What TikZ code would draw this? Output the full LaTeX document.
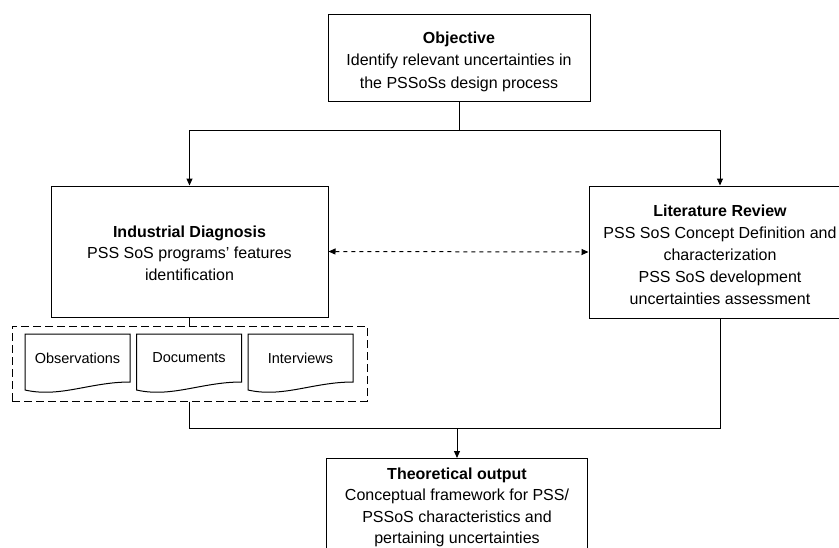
\documentclass[tikz,border=0pt]{standalone}
\usepackage{fontspec}
\setmainfont{Liberation Sans}
\usetikzlibrary{arrows.meta}
\tikzset{
  box/.style={draw, line width=1pt, inner sep=0pt},
  txt/.style={align=center, inner sep=0pt, font=\fontsize{16}{22.5}\selectfont},
  conn/.style={line width=1pt},
  arr/.style={line width=1pt, -{Triangle[length=7pt,width=6pt]}},
  darr/.style={line width=1pt, dash pattern=on 4pt off 4pt,
    {Triangle[length=7pt,width=6pt]}-{Triangle[length=7pt,width=6pt]}},
  grpbox/.style={draw, line width=1pt, dash pattern=on 8pt off 4pt, inner sep=0pt},
  doc/.style={draw, line width=1pt},
  doctext/.style={font=\fontsize{14.5}{17}\selectfont, inner sep=0pt}
}
\begin{document}
\begin{tikzpicture}[x=1pt,y=-1pt]
\useasboundingbox (0,0) rectangle (839,547);
\clip (0,0) rectangle (839,547);
\node[box, minimum width=262pt, minimum height=87pt] (obj) at (459,57.5) {};
\node[txt] (objt) at (459,61.5)
  {\textbf{Objective}\\Identify relevant uncertainties in\\the PSSoSs design process};
\node[box, minimum width=277pt, minimum height=131pt] (ind) at (189.5,251.5) {};
\node[txt, font=\fontsize{16}{21.5}\selectfont] (indt) at (189.5,253)
  {\textbf{Industrial Diagnosis}\\PSS SoS programs’ features\\identification};
\node[box, minimum width=262pt, minimum height=132pt] (lit) at (720,252) {};
\node[txt, font=\fontsize{16}{22}\selectfont] (litt) at (720,254.5)
  {\textbf{Literature Review}\\PSS SoS Concept Definition and\\characterization\\PSS SoS development\\uncertainties assessment};
\node[grpbox, minimum width=355pt, minimum height=75pt] (grp) at (189.5,363.5) {};
\foreach \n/\x/\t in {o/25/Observations, d/136.5/Documents, i/248/Interviews} {
  \draw[doc] (\x,334) -- ++(105,0) -- ++(0,48)
    .. controls +(-40,0) and +(35,8) .. (\x,390) -- cycle;
  \node[doctext] (\n) at (\x+52.5,358) {\t};
}
\node[box, minimum width=261pt, minimum height=100pt, anchor=north] (theo) at (457,458) {};
\node[txt, font=\fontsize{16}{21.3}\selectfont] (theot) at (457,507.5)
  {\textbf{Theoretical output}\\Conceptual framework for PSS/\\PSSoS characteristics and\\pertaining uncertainties};
\coordinate (j1) at (459,130);
\coordinate (j2) at (457,428);
\draw[conn] (obj.south) -- (j1);
\draw[arr] (j1) -| (ind.north);
\draw[arr] (j1) -| (lit.north);
\draw[darr] (ind.east) -- (lit.west);
\draw[conn] (ind.south) -- (grp.north);
\draw[conn] (grp.south) |- (j2);
\draw[conn] (lit.south) |- (j2);
\draw[arr] (j2) -- (theo.north);
\end{tikzpicture}
\end{document}
